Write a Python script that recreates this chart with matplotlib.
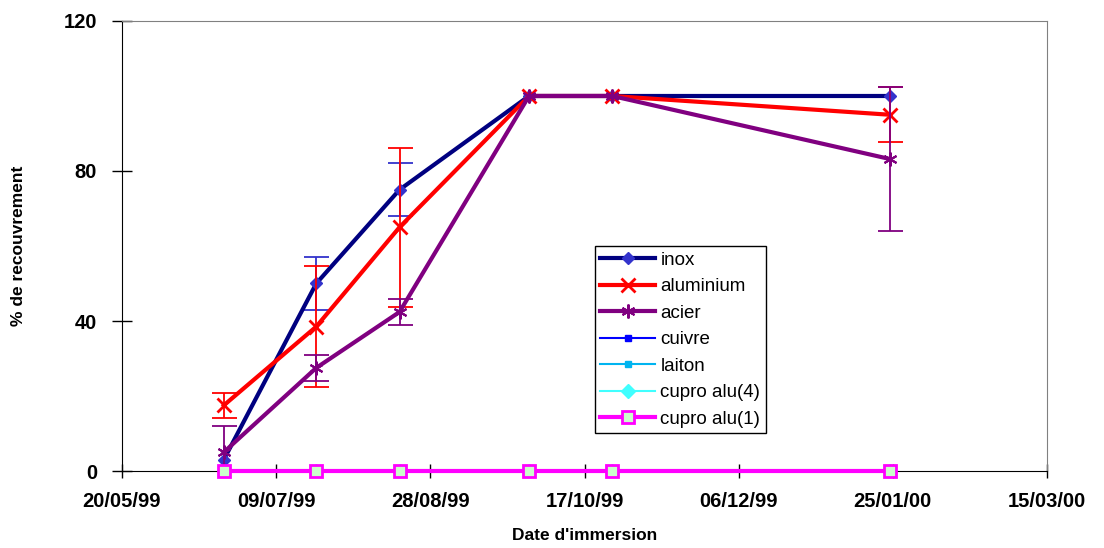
import matplotlib
matplotlib.use("Agg")
import matplotlib.pyplot as plt
import numpy as np
from datetime import datetime

# immersion dates
dates = ["22/06/99", "22/07/99", "18/08/99", "29/09/99", "26/10/99", "24/01/00"]
inox = [3, 50, 75, 100, 100, 100]
inox_err = [0, 7, 7, 0, 0, 0]
aluminium = [17.5, 38.5, 65, 100, 100, 95]
aluminium_err = [3.3, 16.2, 21.2, 0, 0, 7.3]
acier = [5, 27.5, 42.4, 100, 100, 83.2]
acier_err = [7, 3.5, 3.5, 0, 0, 19.2]
cuivre = [0, 0, 0, 0, 0, 0]
laiton = [0, 0, 0, 0, 0, 0]
cupro4 = [0, 0, 0, 0, 0, 0]
cupro1 = [0, 0, 0, 0, 0, 0]

tick_dates = ["20/05/99", "09/07/99", "28/08/99", "17/10/99", "06/12/99", "25/01/00", "15/03/00"]
y_ticks = [0, 40, 80, 120]

to_d = lambda s: datetime.strptime(s, "%d/%m/%y")
x = [to_d(d) for d in dates]
xt = [to_d(d) for d in tick_dates]

plt.rcParams["font.family"] = ["Liberation Sans", "DejaVu Sans"]
fig = plt.figure(figsize=(11.04, 5.48), dpi=100)
ax = fig.add_axes([0.1105, 0.1405, 0.8379, 0.8212])

ebkw = dict(elinewidth=1.3, capsize=9, capthick=1.3)

def errbars(vals, errs, color, z):
    # only the points that carry an error bar
    idx = [i for i, e in enumerate(errs) if e > 0]
    ax.errorbar([x[i] for i in idx], [vals[i] for i in idx], yerr=[errs[i] for i in idx],
                fmt="none", ecolor=color, zorder=z, **ebkw)

# hidden series (all zero, under the magenta line)
ax.plot(x, cuivre, color="#0000ff", lw=1.5, marker="s", ms=4, label="cuivre", zorder=2)
ax.plot(x, laiton, color="#00b4f0", lw=1.5, marker="s", ms=5, label="laiton", zorder=2)
ax.plot(x, cupro4, color="#40ffff", lw=1.5, marker="D", ms=7, label="cupro alu(4)", zorder=2)

errbars(inox, inox_err, "#3333cc", 3)
ax.plot(x, inox, color="#000080", lw=3, marker="D", ms=6, mfc="#3333cc", mec="#3333cc",
        label="inox", zorder=4)
errbars(aluminium, aluminium_err, "#ff0000", 5)
ax.plot(x, aluminium, color="#ff0000", lw=3, marker="x", ms=10, mew=2, label="aluminium", zorder=6)
errbars(acier, acier_err, "#800080", 7)
ax.plot(x, acier, color="#800080", lw=3, marker=(6, 2, 0), ms=10, mew=1.5, label="acier", zorder=8)
ax.plot(x, cupro1, color="#ff00ff", lw=3, marker="s", ms=8, mfc="#ccffcc", mec="#ff00ff",
        mew=2, label="cupro alu(1)", zorder=9, clip_on=False)

ax.set_xlim(xt[0], xt[-1])
ax.set_ylim(0, 120)
ax.set_xticks(xt)
ax.set_xticklabels(tick_dates)
ax.set_yticks(y_ticks)
ax.set_yticklabels([str(v) for v in y_ticks])
ax.tick_params(axis="y", direction="inout", length=14, width=1, labelsize=14.5, pad=11)
ax.tick_params(axis="x", direction="inout", length=10, width=1, labelsize=14.5, pad=10)
for lab in ax.get_xticklabels() + ax.get_yticklabels():
    lab.set_fontweight("bold")

for s in ["top", "right"]:
    ax.spines[s].set_color("#808080")
for s in ["left", "bottom"]:
    ax.spines[s].set_color("black")

ax.set_ylabel("% de recouvrement", fontsize=12.5, fontweight="bold", labelpad=27)
ax.set_xlabel("Date d'immersion", fontsize=12.5, fontweight="bold", labelpad=12)

handles, labels = ax.get_legend_handles_labels()
order = ["inox", "aluminium", "acier", "cuivre", "laiton", "cupro alu(4)", "cupro alu(1)"]
hmap = dict(zip(labels, handles))
leg = ax.legend([hmap[k] for k in order], order, loc="upper left", bbox_to_anchor=(0.511, 0.5),
                fontsize=13.5, numpoints=1, handlelength=2.9, handletextpad=0.3, labelspacing=0.5,
                borderpad=0.3, borderaxespad=0, fancybox=False, framealpha=1, edgecolor="black")
leg.get_frame().set_linewidth(1)

fig.savefig("out.png", dpi=100)
